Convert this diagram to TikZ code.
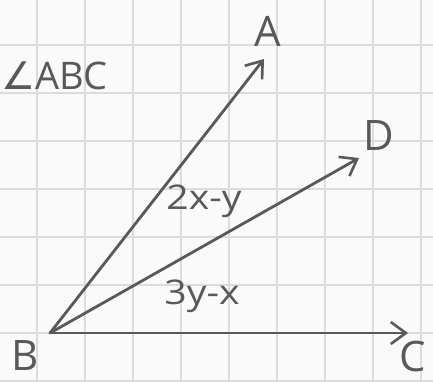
\documentclass[tikz,border=0pt]{standalone}
\usepackage{fontspec}
\setmainfont{Open Sans}
\newfontfamily\symfont{DejaVu Sans}
\usetikzlibrary{arrows.meta}
\definecolor{pencil}{HTML}{595959}
\definecolor{gridgray}{HTML}{DCDCDC}

\begin{document}
\begin{tikzpicture}[x=1pt, y=-1pt, line join=round,
    ray/.style={pencil, line width=2.8pt, line cap=round,
      -{Straight Barb[length=15pt, width=22pt, line width=2.6pt]}},
    lbl/.style={pencil, font=\fontsize{42}{46}\selectfont, inner sep=0pt},
    measure/.style={pencil, font=\fontsize{34}{38}\selectfont, inner sep=0pt, xscale=1.15}]
    \useasboundingbox (0,0) rectangle (433,381);
    \fill[white!98!black] (0,0) rectangle (433,381);
    % grid paper
    \foreach \gx in {37,85,...,421} \draw[gridgray, line width=1.2pt] (\gx,0) -- (\gx,381);
    \foreach \gy in {45,93,...,381} \draw[gridgray, line width=1.2pt] (0,\gy) -- (433,\gy);
    \coordinate (B) at (50,333);
    \coordinate (A) at (264,59);
    \coordinate (D) at (359,158);
    \coordinate (C) at (408,333);
    \draw[ray] (B) -- (A);
    \draw[ray] (B) -- (D);
    \draw[ray] (B) -- (C);
    \node[lbl] (labA) at (268,31) {A};
    \node[lbl] (labD) at (379,136) {D};
    \node[lbl] (labC) at (413,356) {C};
    \node[lbl] (labB) at (25,355) {B};
    \node[lbl, anchor=west, font=\fontsize{38}{42}\selectfont] (title) at (1,76) {{\symfont ∠}ABC};
    \node[measure] (m1) at (204,201) {2x-y};
    \node[measure] (m2) at (202,296) {3y-x};
\end{tikzpicture}
\end{document}
